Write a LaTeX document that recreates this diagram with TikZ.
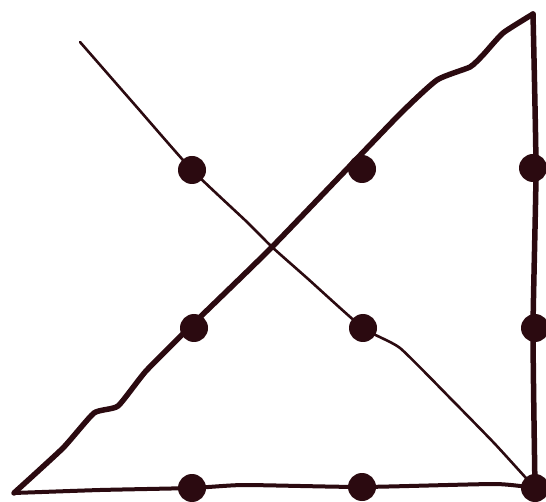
\documentclass[tikz,border=0pt]{standalone}
\usepackage{tikz}
\usetikzlibrary{calc}
\usepackage{xcolor}
\definecolor{ink}{RGB}{43, 10, 16}
\tikzset{
  dot/.style={circle, fill=ink, inner sep=0pt, minimum size=28pt},
  thinpen/.style={draw=ink, line width=2.6pt, line cap=round, line join=round},
  thickpen/.style={draw=ink, line width=5.5pt, line cap=round, line join=round}
}

\begin{document}
\begin{tikzpicture}[x=1pt, y=-1pt]
  \useasboundingbox (0,0) rectangle (546,502);

  % Nine dots, three by three
  \coordinate (d11) at (192,170);
  \coordinate (d12) at (362,169);
  \coordinate (d13) at (533,168);
  \coordinate (d21) at (194,328);
  \coordinate (d22) at (363,328);
  \coordinate (d23) at (535,328);
  \coordinate (d31) at (192,488);
  \coordinate (d32) at (362,487);
  \coordinate (d33) at (535,488);
  \coordinate (start) at (80,42);
  \coordinate (top) at (533,14);
  \coordinate (corner) at (14,493);

  % First stroke: down through the middle diagonal
  \draw[thinpen] plot[smooth, tension=0.3] coordinates
    {(start) (135,105) (d11) (247,222) (272,247) (307,278) (d22) (400,348) (453,401) (495,444) (d33)};

  % Back up along the right side
  \draw[thickpen] plot[smooth, tension=0.3] coordinates
    {(d33) (533,330) (536,170) (top)};

  % Down the long diagonal to the far corner
  \draw[thickpen] plot[smooth, tension=0.3] coordinates
    {(top) (503,33) (483,55) (470,67) (437,80) (397,117) (272,247) (194,323) (146,371) (118,406) (94,413) (63,448) (corner)};

  % Along the bottom
  \draw[thinpen, line width=4pt] plot[smooth, tension=0.3] coordinates
    {(corner) (100,490) (d31) (244,485) (d32) (495,484) (d33)};

  % Dots on top
  \foreach \d in {d11,d12,d13,d21,d22,d23,d31,d32,d33}
    \node[dot] (n\d) at (\d) {};
\end{tikzpicture}
\end{document}
